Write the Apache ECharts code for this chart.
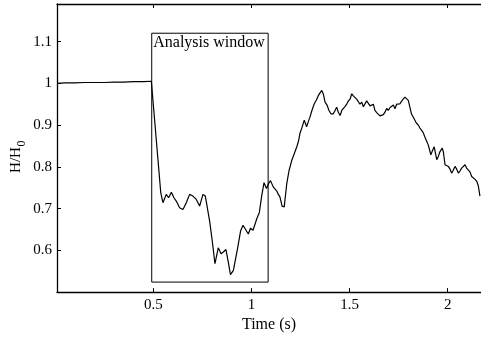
<!DOCTYPE html>
<html><head><meta charset="utf-8">
<script src="https://cdn.jsdelivr.net/npm/echarts@6/dist/echarts.min.js"></script>
<style>html,body{margin:0;padding:0;background:#fff}#c{width:481px;height:338px}</style>
</head><body><div id="c"></div>
<script>
const timeValues = [0.01,0.05,0.1,0.15,0.2,0.25,0.3,0.35,0.4,0.45,0.49,0.498,
0.538,0.549,0.566,0.578,0.592,0.605,0.617,0.634,0.651,0.668,0.685,0.702,0.719,0.736,0.753,0.765,0.787,0.801,
0.814,0.831,0.845,0.857,0.870,0.882,0.893,0.908,0.916,0.929,0.945,0.957,0.967,0.984,0.995,1.008,1.018,1.028,
1.040,1.052,1.064,1.077,1.087,1.097,1.111,1.129,1.137,1.145,1.156,1.167,1.180,1.191,1.205,1.217,1.231,1.240,
1.247,1.258,1.269,1.281,1.291,1.298,1.308,1.320,1.331,1.341,1.349,1.358,1.366,1.375,1.385,1.395,1.405,1.417,
1.426,1.434,1.443,1.452,1.460,1.469,1.477,1.486,1.494,1.503,1.511,1.519,1.528,1.536,1.545,1.553,1.562,1.570,
1.578,1.587,1.596,1.604,1.613,1.621,1.629,1.638,1.646,1.655,1.664,1.672,1.680,1.689,1.697,1.706,1.714,1.723,
1.731,1.740,1.747,1.756,1.768,1.774,1.782,1.791,1.799,1.806,1.815,1.823,1.832,1.840,1.850,1.858,1.866,1.875,
1.883,1.892,1.901,1.914,1.923,1.931,1.944,1.952,1.960,1.972,1.978,1.986,1.995,2.003,2.011,2.020,2.028,2.037,
2.045,2.054,2.062,2.071,2.079,2.088,2.096,2.105,2.113,2.122,2.130,2.139,2.148,2.156,2.160,2.164];
const ratioValues = [1.000,1.001,1.001,1.002,1.002,1.002,1.003,1.003,1.004,1.004,1.005,1.006,
0.738,0.714,0.734,0.726,0.739,0.726,0.718,0.702,0.698,0.714,0.734,0.730,0.722,0.706,0.734,0.730,0.670,0.620,
0.568,0.606,0.592,0.596,0.602,0.572,0.542,0.552,0.556,0.604,0.647,0.660,0.658,0.639,0.653,0.648,0.651,0.677,
0.690,0.730,0.762,0.748,0.760,0.767,0.752,0.742,0.734,0.728,0.706,0.704,0.760,0.790,0.815,0.830,0.848,0.862,
0.880,0.895,0.912,0.896,0.910,0.919,0.935,0.951,0.960,0.971,0.975,0.983,0.975,0.955,0.948,0.935,0.927,0.927,
0.935,0.943,0.930,0.923,0.935,0.931,0.945,0.951,0.958,0.963,0.975,0.970,0.971,0.962,0.959,0.950,0.955,0.944,
0.947,0.958,0.955,0.946,0.943,0.950,0.935,0.930,0.927,0.922,0.919,0.925,0.931,0.940,0.935,0.942,0.939,0.948,
0.939,0.950,0.947,0.951,0.959,0.955,0.967,0.963,0.959,0.955,0.927,0.925,0.912,0.905,0.900,0.893,0.888,0.882,
0.872,0.862,0.852,0.829,0.840,0.848,0.817,0.825,0.836,0.845,0.835,0.805,0.809,0.801,0.795,0.785,0.792,0.801,
0.795,0.785,0.790,0.797,0.800,0.805,0.797,0.793,0.788,0.777,0.776,0.770,0.765,0.754,0.750,0.730];
const xTickValues = [0.5, 1, 1.5, 2];
const yTickValues = [0.6, 0.7, 0.8, 0.9, 1, 1.1];
const windowStart = 0.492, windowEnd = 1.085, windowTop = 1.12, windowBottom = 0.524;
const windowLabel = 'Analysis window';

const FONT = '"Liberation Serif", "DejaVu Serif", serif';
const chart = echarts.init(document.getElementById('c'), null, {renderer: 'canvas'});
const lineData = timeValues.map((t, i) => [t, ratioValues[i]]);
const axisLine = {show: true, lineStyle: {color: '#000', width: 1.3}};
chart.setOption({
  animation: false,
  grid: {left: 57, top: 4, right: 0, bottom: 43, containLabel: false},
  xAxis: [{
    type: 'value', position: 'bottom', min: 0.0094, max: 2.1694,
    axisLine: axisLine,
    axisTick: {show: true, inside: true, length: 4, customValues: xTickValues, lineStyle: {color: '#000'}},
    axisLabel: {show: true, customValues: xTickValues, color: '#000', fontFamily: FONT, fontSize: 15, margin: 5,
      formatter: v => String(v)},
    splitLine: {show: false},
    name: 'Time (s)', nameLocation: 'middle', nameGap: 18,
    nameTextStyle: {color: '#000', fontFamily: FONT, fontSize: 16}
  }, {
    type: 'value', position: 'top', min: 0.0094, max: 2.1694,
    axisLine: axisLine,
    axisTick: {show: true, inside: true, length: 4, customValues: xTickValues, lineStyle: {color: '#000'}},
    axisLabel: {show: false}, splitLine: {show: false}
  }],
  yAxis: {
    type: 'value', min: 0.5, max: 1.19,
    axisLine: axisLine,
    axisTick: {show: true, inside: true, length: 4, customValues: yTickValues, lineStyle: {color: '#000'}},
    axisLabel: {show: true, customValues: yTickValues, color: '#000', fontFamily: FONT, fontSize: 15, margin: 5,
      formatter: v => String(Math.round(v * 10) / 10)},
    splitLine: {show: false}
  },
  graphic: [
    {type: 'text', silent: true, x: 16, y: 160, rotation: Math.PI / 2,
     style: {text: 'H/H', fill: '#000', font: '15px ' + FONT, textAlign: 'center', textVerticalAlign: 'middle'}},
    {type: 'text', silent: true, x: 22, y: 143.5, rotation: Math.PI / 2,
     style: {text: '0', fill: '#000', font: '12px ' + FONT, textAlign: 'center', textVerticalAlign: 'middle'}}
  ],
  series: [{
    type: 'line', data: lineData, showSymbol: false, symbol: 'none', xAxisIndex: 0,
    lineStyle: {color: '#000', width: 1.2}, clip: true,
    markArea: {
      silent: true,
      itemStyle: {color: 'rgba(0,0,0,0)', borderColor: '#000', borderWidth: 1},
      label: {show: true, position: 'insideTopLeft', distance: 2, color: '#000', fontFamily: FONT, fontSize: 16},
      data: [[{name: windowLabel, coord: [windowStart, windowTop]}, {coord: [windowEnd, windowBottom]}]]
    }
  }]
});
</script></body></html>
